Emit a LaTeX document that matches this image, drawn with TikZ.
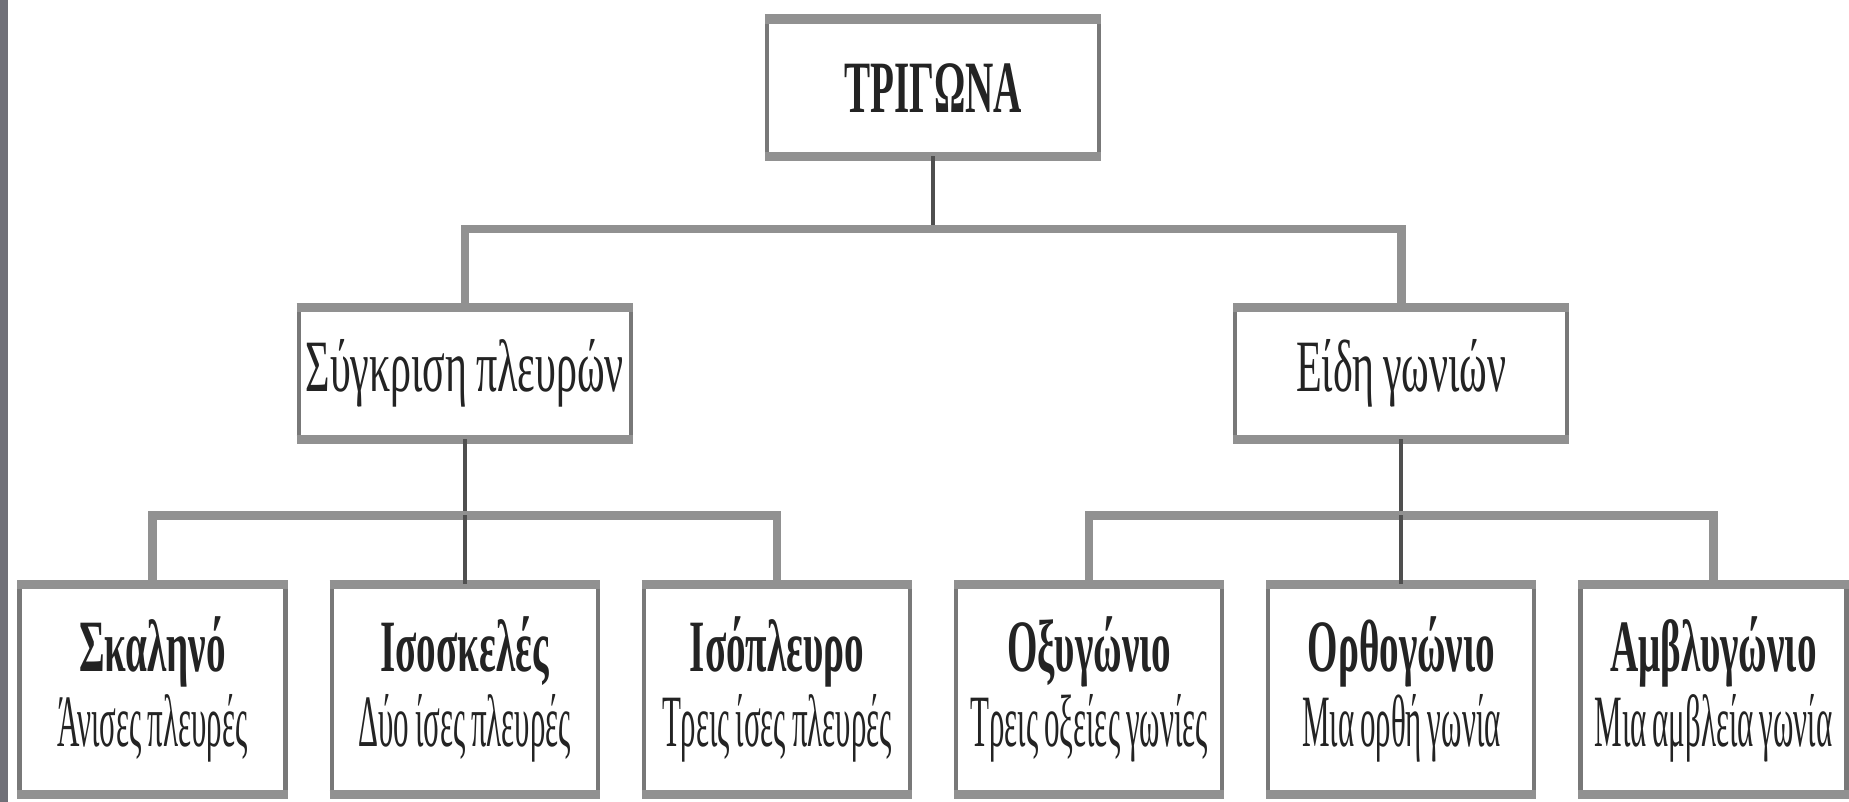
\documentclass[tikz,border=0pt]{standalone}
\usepackage{fontspec}
\setmainfont[FakeStretch=0.53, WordSpace=0.8]{Liberation Serif}
\newfontfamily\midfont[FakeStretch=0.57, WordSpace=0.8]{Liberation Serif}
\newfontfamily\narrowfont[FakeStretch=0.42, WordSpace=0.75]{Liberation Serif}
\usetikzlibrary{positioning, calc}
\definecolor{boxgray}{RGB}{120,120,120}
\definecolor{bargray}{RGB}{145,145,145}
\definecolor{inkgray}{RGB}{35,35,35}
\definecolor{stripgray}{RGB}{112,112,120}

\begin{document}
\begin{tikzpicture}[
			box/.style={rectangle, draw=boxgray, line width=1.2pt, minimum width=3.32cm, minimum height=1.28cm, inner xsep=1pt, align=center, text=inkgray, font=\fontsize{21}{21.5}\selectfont},
			leaf/.style={box, minimum width=2.66cm, minimum height=2.06cm},
			rim/.style={draw=bargray, line width=2.6pt},
			stem/.style={draw=inkgray!80, line width=1.2pt},
			bar/.style={draw=bargray, line width=2.4pt},
			]
			\useasboundingbox (0,0) rectangle (18.49,-8.02);
			\fill[stripgray] (0,0) rectangle (0.08,-8.02);
			% bottom row
			\node[leaf] (skal) at (1.525,-6.895) {\textbf{Σκαληνό}\\{\narrowfont Άνισες πλευρές}};
			\node[leaf, right=0.42cm of skal] (isos) {\textbf{Ισοσκελές}\\{\narrowfont Δύο ίσες πλευρές}};
			\node[leaf, right=0.42cm of isos] (isop) {\textbf{Ισόπλευρο}\\{\narrowfont Τρεις ίσες πλευρές}};
			\node[leaf, right=0.42cm of isop] (oxy) {\textbf{Οξυγώνιο}\\{\narrowfont Τρεις οξείες γωνίες}};
			\node[leaf, right=0.42cm of oxy] (ortho) {\textbf{Ορθογώνιο}\\{\narrowfont Μια ορθή γωνία}};
			\node[leaf, right=0.42cm of ortho] (amvl) {\textbf{Αμβλυγώνιο}\\{\narrowfont Μια αμβλεία γωνία}};
			% middle row
			\node[box, above=1.45cm of isos] (sides) {\midfont Σύγκριση πλευρών};
			\node[box, above=1.45cm of ortho] (angles) {\midfont Είδη γωνιών};
			\coordinate (midtop) at ($(sides.north)!0.5!(angles.north)$);
			\node[box, minimum height=1.33cm, above=1.51cm of midtop] (tri) {\textbf{ΤΡΙΓΩΝΑ}};
			\foreach \n in {tri,sides,angles,skal,isos,isop,oxy,ortho,amvl}
				\draw[rim] (\n.north west) -- (\n.north east) (\n.south west) -- (\n.south east);
			% connectors
			\draw[stem] (tri.south) -- ++(0,-0.73) coordinate (forkA);
			\draw[bar] (sides.north) |- (forkA) -| (angles.north);
			\draw[stem] (sides.south) -- ++(0,-0.76) coordinate (forkB);
			\draw[bar] (skal.north) |- (forkB) -| (isop.north);
			\draw[stem] (forkB) -- (isos.north);
			\draw[stem] (angles.south) -- ++(0,-0.76) coordinate (forkC);
			\draw[bar] (oxy.north) |- (forkC) -| (amvl.north);
			\draw[stem] (forkC) -- (ortho.north);
		\end{tikzpicture}
\end{document}
